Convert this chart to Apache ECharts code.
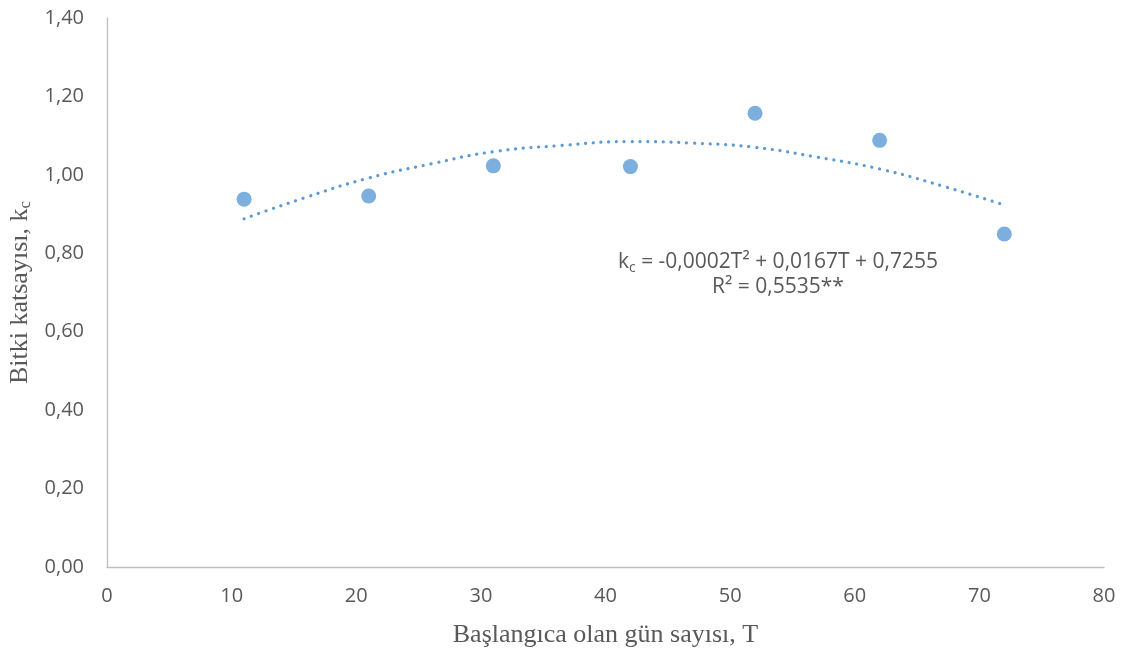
<!DOCTYPE html>
<html>
<head>
<meta charset="utf-8">
<script src="https://cdn.jsdelivr.net/npm/echarts@6/dist/echarts.min.js"></script>
<style>html,body{margin:0;padding:0;background:#fff}#c{width:1128px;height:654px}</style>
</head>
<body>
<div id="c"></div>
<script>
// Observed data: days since start (T) and crop coefficient (kc)
const daysT = [11, 21, 31, 42, 52, 62, 72];
const kcValues = [0.938, 0.946, 1.023, 1.021, 1.157, 1.088, 0.849];
// Polynomial trend line
const trendT = [11, 16, 21, 26, 31, 36.5, 42, 47, 52, 57, 62, 67, 72];
const trendKc = [0.888, 0.943, 0.992, 1.028, 1.059, 1.075, 1.085, 1.081, 1.070, 1.045, 1.015, 0.972, 0.923];
const xTicks = [0, 10, 20, 30, 40, 50, 60, 70, 80];
const yTicks = [0, 0.2, 0.4, 0.6, 0.8, 1.0, 1.2, 1.4];

const chart = echarts.init(document.getElementById('c'));
const tickFont = '"Open Sans", "Noto Sans", sans-serif';
const titleFont = '"Liberation Serif", "DejaVu Serif", serif';
chart.setOption({
  animation: false,
  grid: {left: 107, right: 24, top: 18, bottom: 87, containLabel: false, outerBoundsMode: 'none'},
  xAxis: {
    type: 'value', min: xTicks[0], max: xTicks[xTicks.length-1], interval: 10,
    name: 'Başlangıca olan gün sayısı, T', nameLocation: 'middle', nameGap: 55,
    nameTextStyle: {fontFamily: titleFont, fontSize: 26, color: '#595959'},
    axisLine: {show: true, lineStyle: {color: '#bfbfbf', width: 1.3}},
    axisTick: {show: false}, splitLine: {show: false},
    axisLabel: {color: '#595959', fontSize: 20, fontFamily: tickFont, margin: 19}
  },
  yAxis: {
    type: 'value', min: yTicks[0], max: yTicks[yTicks.length-1], interval: 0.2,
    name: 'Bitki katsayısı, k{sub|c}', nameLocation: 'middle', nameGap: 73,
    nameTextStyle: {fontFamily: titleFont, fontSize: 26, color: '#595959',
      rich: {sub: {fontFamily: titleFont, fontSize: 17, color: '#595959', verticalAlign: 'bottom', padding: [10,0,0,0]}}},
    axisLine: {show: true, lineStyle: {color: '#bfbfbf', width: 1.3}},
    axisTick: {show: false}, splitLine: {show: false},
    axisLabel: {color: '#595959', fontSize: 20, fontFamily: tickFont, margin: 23,
      formatter: v => v.toFixed(2).replace('.', ',')}
  },
  series: [
    {
      type: 'line', data: trendT.map((t, i) => [t, trendKc[i]]),
      smooth: true, showSymbol: false, symbol: 'none',
      lineStyle: {color: '#5b9bd5', width: 3.2, type: [0.1, 7.7], cap: 'round'},
      z: 1
    },
    {
      type: 'scatter', data: daysT.map((t, i) => [t, kcValues[i]]),
      symbol: 'circle', symbolSize: 15,
      itemStyle: {color: '#5b9bd5'}, z: 2
    }
  ],
  graphic: [
    {type: 'text', x: 778, y: 250, style: {
      text: 'k{sub|c} = -0,0002T² + 0,0167T + 0,7255', align: 'center',
      font: '21px "Open Sans", sans-serif', fill: '#595959',
      rich: {sub: {fontSize: 14, fontFamily: tickFont, fill: '#595959', padding: [11,0,0,0]}}
    }},
    {type: 'text', x: 778, y: 277, style: {
      text: 'R² = 0,5535**', align: 'center', font: '21px "Open Sans", sans-serif', fill: '#595959'
    }}
  ]
});
</script>
</body>
</html>
